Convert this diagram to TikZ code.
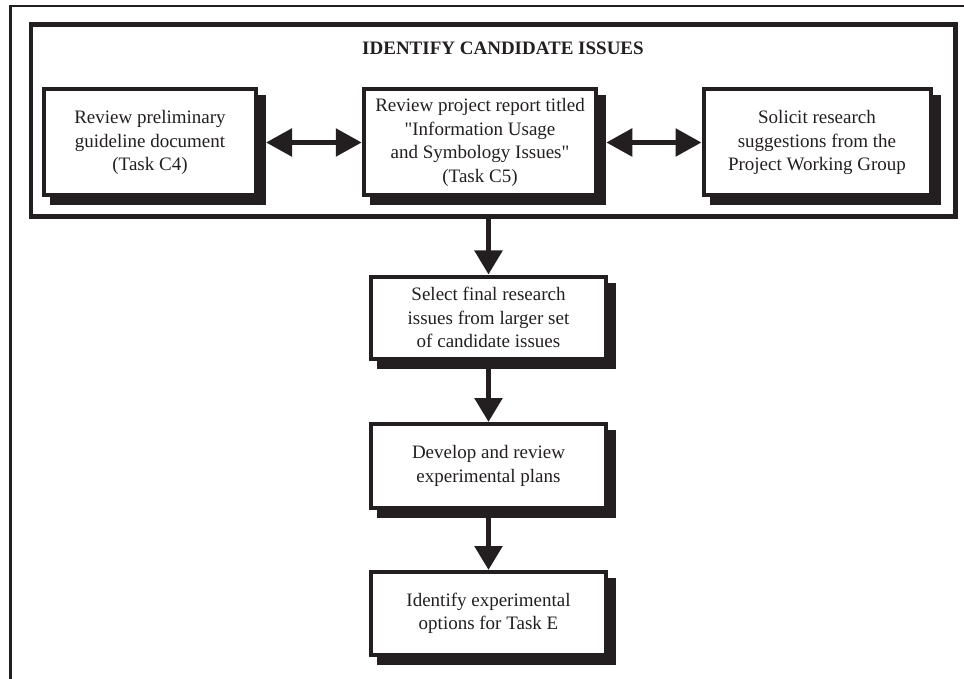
\documentclass[tikz,border=0pt]{standalone}
\usepackage{fontspec}
\setmainfont{Liberation Serif}
\usetikzlibrary{arrows.meta,backgrounds}
\definecolor{ink}{RGB}{35,31,32}
\begin{document}
\begin{tikzpicture}[x=1pt,y=-1pt,
  stepbox/.style={draw=ink, line width=4pt, fill=white, inner sep=0pt,
    align=center, text=ink, font=\fontsize{19}{23.5}\selectfont},
  toprow/.style={stepbox, minimum height=106pt},
  colbox/.style={stepbox, minimum width=235pt, minimum height=82pt},
  flow/.style={draw=ink, line width=5.5pt, -{Triangle[length=24pt,width=27pt]}},
  twoway/.style={draw=ink, line width=5.5pt,
    {Triangle[length=26pt,width=27pt]}-{Triangle[length=26pt,width=27pt]}},
  shadowfill/.style={fill=ink},
]
\useasboundingbox (0,0) rectangle (964,679);

% page rules (top and left only)
\draw[ink, line width=1.7pt] (9.1,5.8) -- (964,5.8);
\draw[ink, line width=2.4pt] (10.3,5) -- (10.3,679);

% group frame
\node[draw=ink, line width=4.5pt, minimum width=924.5pt, minimum height=192pt,
  inner sep=0pt] (grp) at (493.25,120.5) {};
\node[anchor=base, text=ink, font=\fontsize{19}{23.5}\selectfont\bfseries]
  (title) at (503,55) {IDENTIFY CANDIDATE ISSUES};

% top row
\node[toprow, minimum width=212pt] (b1) at (150,142.5)
  {Review preliminary\\guideline document\\(Task C4)};
\node[toprow, minimum width=232.5pt] (b2) at (480,142.5)
  {Review project report titled\\\textquotedbl Information Usage\\and Symbology Issues\textquotedbl\\(Task C5)};
\node[toprow, minimum width=227pt] (b3) at (817,142.5)
  {Solicit research\\suggestions from the\\Project Working Group};

% main column
\node[colbox] (b4) at (488.5,317.5)
  {Select final research\\issues from larger set\\of candidate issues};
\node[colbox, minimum height=84pt] (b5) at (488.5,466)
  {Develop and review\\experimental plans};
\node[colbox, minimum height=83pt] (b6) at (488.5,613.5)
  {Identify experimental\\options for Task E};

% drop shadows
\begin{scope}[on background layer]
  \foreach \b in {b1,b2,b3,b4,b5,b6}
    \fill[shadowfill] ([shift={(8pt,-8pt)}]\b.north west)
      rectangle ([shift={(8pt,-8pt)}]\b.south east);
\end{scope}

% connectors
\draw[twoway] ([xshift=8pt]b1.east) -- (b2.west);
\draw[twoway] ([xshift=8pt]b2.east) -- (b3.west);
\draw[flow] (grp.south -| b4.north) -- (b4.north);
\draw[flow] (b4.south) -- (b5.north);
\draw[flow] (b5.south) -- (b6.north);
\end{tikzpicture}
\end{document}
